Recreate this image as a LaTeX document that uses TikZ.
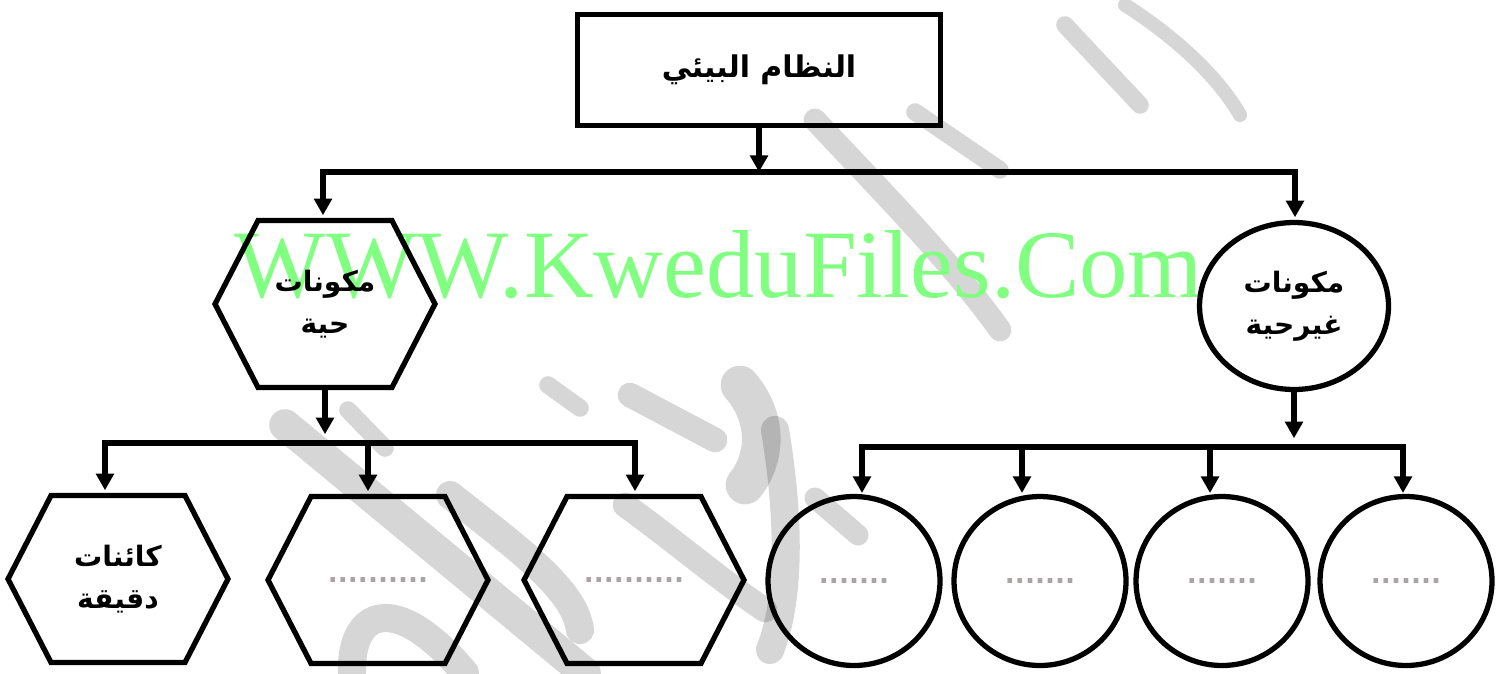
\documentclass[tikz,border=0pt]{standalone}
\usepackage{fontspec}
\setmainfont{Liberation Serif}
\newfontfamily\arabicfont[Script=Arabic]{DejaVu Sans}
\newfontfamily\dotfont{DejaVu Sans}
\TeXXeTstate=1
\usetikzlibrary{arrows.meta,shapes.geometric,calc}
\definecolor{markgreen}{RGB}{128,255,128}
\definecolor{dotgray}{RGB}{170,165,165}
\newcommand\ar[1]{\beginR#1\endR}

\begin{document}
\begin{tikzpicture}[x=0.02cm,y=-0.02cm]
\tikzset{ >={Triangle[length=9.5pt,width=10pt]}, inner sep=0pt, outer sep=0pt,
  link/.style={line width=3pt, line cap=rect},
  hexbox/.style={minimum width=4.4cm, minimum height=3.34cm, align=center},
  roundbox/.style={ellipse, draw, line width=3pt, minimum width=3.44cm, minimum height=3.38cm, align=center},
  arlabel/.style={font=\arabicfont\bfseries\fontsize{16}{24}\selectfont},
  blank/.style={font=\dotfont\bfseries\fontsize{15}{18}\selectfont, text=dotgray},
  swoosh/.style={draw=black, draw opacity=0.16, line cap=round, line width=#1},
}
\useasboundingbox (0,0) rectangle (1496,673);

% background strokes
\draw[swoosh=18pt] (285,425) -- (585,673);
\draw[swoosh=16pt] (450,495) .. controls (520,550) and (575,590) .. (580,630);
\draw[swoosh=16pt] (352,673) .. controls (350,610) and (395,590) .. (465,673);
\draw[swoosh=14pt] (625,505) .. controls (680,545) and (720,580) .. (765,610);
\draw[swoosh=14pt] (630,395) -- (715,440);
\draw[swoosh=22pt] (740,385) .. controls (770,420) and (765,460) .. (745,485);
\draw[swoosh=10pt] (548,385) -- (580,408);
\draw[swoosh=16pt] (775,430) .. controls (790,520) and (790,600) .. (770,650);
\draw[swoosh=12pt] (815,498) -- (858,535);
\draw[swoosh=10pt] (348,410) -- (385,448);
\draw[swoosh=13pt] (815,120) .. controls (880,190) and (950,260) .. (1000,330);
\draw[swoosh=10pt] (915,112) -- (1000,170);
\draw[swoosh=10pt] (1065,25) -- (1140,105);
\draw[swoosh=8pt] (1125,5) .. controls (1180,40) and (1220,80) .. (1240,115);

% watermark
\node[font=\fontsize{55}{60}\selectfont, text=markgreen, anchor=base] (mark) at (719,297) {WWW.KweduFiles.Com};

% boxes
\node[draw, line width=3pt, minimum width=7.26cm, minimum height=2.22cm,
      font=\arabicfont\bfseries\fontsize{17}{24}\selectfont] (root) at (759,70) {\ar{النظام البيئي}};
\node[hexbox, arlabel] (alive) at (325,304) {\ar{مكونات}\\\ar{حية}};
\node[roundbox, arlabel, minimum width=3.78cm, minimum height=3.34cm] (abiotic) at (1294,306) {\ar{مكونات}\\\ar{غيرحية}};

\node[hexbox, arlabel] (micro) at (118,579) {\ar{كائنات}\\\ar{دقيقة}};
\node[hexbox, blank] (hexB) at (378,580) {..........};
\node[hexbox, blank] (hexC) at (634,580) {..........};
\foreach \n/\x in {cA/854, cB/1040, cC/1222, cD/1406}
  \node[roundbox, blank] (\n) at (\x,581) {.......};

\foreach \h in {alive, micro, hexB, hexC}
  \draw[line width=3pt] (\h.west) -- ($(\h.north west)+(43,0)$) -- ($(\h.north east)+(-43,0)$)
    -- (\h.east) -- ($(\h.south east)+(-43,0)$) -- ($(\h.south west)+(43,0)$) -- cycle;

% first level
\coordinate (barTopL) at (323,172);
\coordinate (barTopR) at (1295,172);
\draw[link] (barTopL) -- (barTopR);
\draw[link,->] (root.south) -- (root.south |- barTopL);
\draw[link,->,shorten >=3pt] (barTopL) -- (barTopL |- alive.north);
\draw[link,->,shorten >=3pt] (barTopR) -- (barTopR |- abiotic.north);

% living side
\coordinate (barL) at (105,443);
\coordinate (dropB) at (368,443);
\coordinate (barLend) at (635,443);
\draw[link] (barL) -- (barLend);
\draw[link,->,shorten >=5pt] (alive.south) -- (alive.south |- barL);
\draw[link,->,shorten >=3pt] (barL) -- (barL |- micro.north);
\draw[link,->,shorten >=3pt] (dropB) -- (dropB |- hexB.north);
\draw[link,->,shorten >=3pt] (barLend) -- (barLend |- hexC.north);

% non-living side
\coordinate (barR) at (862,447);
\coordinate (barRend) at (1403,447);
\draw[link] (barR) -- (barRend);
\draw[link,->,shorten >=5pt] (abiotic.south) -- (abiotic.south |- barR);
\foreach \n/\x in {cA/862, cB/1022, cC/1210, cD/1403} {
  \coordinate (d\n) at (\x,447);
  \draw[link,->,shorten >=2pt] (d\n) -- (d\n |- \n.north);
}
\end{tikzpicture}
\end{document}
